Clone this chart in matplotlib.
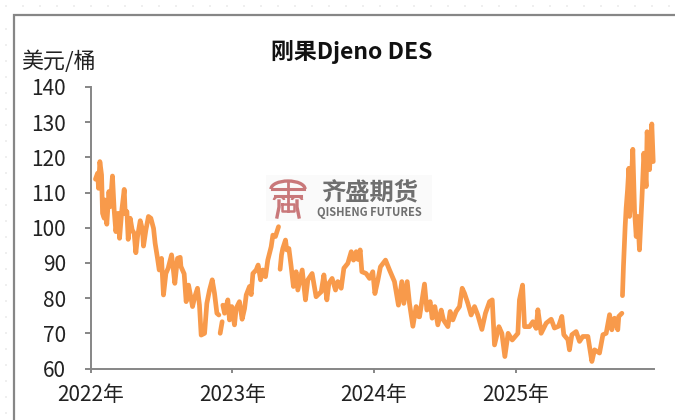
import numpy as np
import matplotlib
matplotlib.use('Agg')
import matplotlib.pyplot as plt
from matplotlib.patches import Rectangle, Arc

plt.rcParams['font.family'] = ['Noto Sans CJK SC', 'DejaVu Sans']

# anos desde 2022 / precio (nan = hueco en la serie)
t_2022 = [.035, .050, .057, .066, .078, .085, .097, .101, .115, .130, .139, .155, .167, .179, .195, .205,
          .221, .238, .245, .257, .266, .280, .294, .308, .320, .332, .351, .367, .374, .391, .409, .426,
          .445, .456, .473, .485, .501, .515, .532, .548, .572, .581, .595, .614, .633, .638, .661, .675,
          .692, .720, .736, .755, .769, .781, .805, .821, .840, .859, .875, .892, .906, .910, .915, .929,
          .931, .934, .946, .969, .981, .997]
p_2022 = [113.8, 115.5, 111.2, 118.8, 115, 104.1, 102.7, 107.9, 101, 110.3, 106, 114.7, 105, 98.9, 104.1, 97,
          105, 110.9, 104, 104.6, 96.7, 102.7, 99.4, 98.4, 92.9, 97.5, 102, 99.4, 94.8, 99.4, 103.2, 102.7,
          99.8, 95.6, 91.3, 88, 91.3, 80.9, 87, 88.5, 92.3, 89.4, 84.2, 91.3, 91.6, 89, 86.9, 79,
          83.7, 77.6, 80.4, 82.8, 78, 69.5, 70, 78.5, 82.3, 85.2, 81.4, 75.7, 75.2, np.nan, 70, 73.3,
          np.nan, 78, 75.7, 79.5, 73.8, 77.6]

t_2023 = [1.016, 1.028, 1.051, 1.070, 1.087, 1.099, 1.122, 1.134, 1.146, 1.169, 1.183, 1.200, 1.216, 1.235,
          1.251, 1.275, 1.287, 1.305, 1.327, 1.332, 1.338, 1.348, 1.357, 1.376, 1.385, 1.400, 1.416, 1.432,
          1.451, 1.463, 1.494, 1.517, 1.534, 1.564, 1.592, 1.604, 1.628, 1.647, 1.668, 1.682, 1.705, 1.729,
          1.745, 1.769, 1.788, 1.816, 1.840, 1.856, 1.875, 1.887, 1.903, 1.915, 1.945, 1.969, 1.992]
p_2023 = [72.4, 77.1, 79, 74, 77, 80.9, 83.3, 81, 87, 88, 89.4, 85.2, 88, 86.1,
          90.8, 94.6, 97.9, 97.5, 100.3, np.nan, 88.2, 92.3, 94.1, 96.5, 93.7, 94.1, 89, 83.3,
          87.5, 82.3, 88, 79.5, 85.2, 87, 80.4, 80.9, 81.8, 86.6, 79.5, 84.2, 85.6, 82.3,
          84.7, 82.8, 88.5, 89.9, 93.2, 90.8, 93.2, 91, 93.7, 87.5, 87, 85.6, 87.5]

t_2024 = [2.007, 2.028, 2.046, 2.082, 2.110, 2.145, 2.173, 2.197, 2.211, 2.235, 2.251, 2.275, 2.298, 2.317,
          2.322, 2.357, 2.374, 2.397, 2.411, 2.430, 2.451, 2.475, 2.491, 2.522, 2.538, 2.557, 2.580, 2.604,
          2.623, 2.639, 2.663, 2.686, 2.710, 2.733, 2.762, 2.787, 2.816, 2.835, 2.851, 2.882, 2.903, 2.924,
          2.947, 2.976]
p_2024 = [81.3, 85.1, 88.9, 90.8, 88, 84.7, 78, 84.7, 78.5, 84.7, 78.5, 72, 77.6, 74.7,
          74.7, 84, 76.6, 79, 74.3, 77.6, 72.4, 76.6, 73.8, 71.9, 76.2, 73.8, 76.2, 77.6,
          82.8, 81.4, 78.5, 75.2, 77.6, 75.2, 71.1, 75.7, 79, 79.5, 66.7, 71.9, 70, 63.4,
          70, 68.1]

t_2025 = [3.016, 3.027, 3.049, 3.063, 3.098, 3.122, 3.145, 3.157, 3.180, 3.216, 3.251, 3.274, 3.303, 3.326,
          3.340, 3.369, 3.380, 3.397, 3.427, 3.451, 3.474, 3.510, 3.538, 3.557, 3.592, 3.616, 3.639, 3.663,
          3.679, 3.698, 3.721, 3.728, 3.750, 3.752, 3.754, 3.761, 3.773, 3.780, 3.790, 3.799, 3.804, 3.815,
          3.827, 3.839, 3.851, 3.862, 3.874, 3.891, 3.905, 3.921, 3.928, 3.945, 3.961, 3.971]
p_2025 = [70, 79.5, 83.7, 71.9, 71.9, 73.3, 71.4, 76.7, 70, 72.9, 74, 71.5, 72, 74.8,
          69.6, 68.2, 65.3, 69.6, 70.5, 67.7, 69.1, 69.1, 62, 65.3, 64.4, 69.6, 70, 75.3,
          71, 74.3, 71, 74.8, 75.7, np.nan, 80.7, 89, 100.4, 105.6, 110.8, 116.9, 103.2, 111.7,
          122.3, 105, 97.5, 103.2, 93.7, 107.9, 121.2, 111.7, 127.3, 116.5, 129.5, 118.8]

years = [0, 1, 2, 3]
year_labels = ['2022年', '2023年', '2024年', '2025年']
y_ticks = [60, 70, 80, 90, 100, 110, 120, 130, 140]

W, H = 675, 420
GRIS = '#868686'
NARANJA = '#F89A4B'
TEXTO = '#222222'

fig = plt.figure(figsize=(W / 100, H / 100), dpi=100, facecolor='white')

# capa de fondo en pixeles: puntos del fondo y marco
bg = fig.add_axes([0, 0, 1, 1], zorder=0)
bg.set_xlim(0, W)
bg.set_ylim(H, 0)
bg.axis('off')
for x in range(5, W, 17):
    bg.add_patch(Rectangle((x, 5), 1.5, 1.5, color='#efefef', lw=0))
for y in range(28, H, 16):
    bg.add_patch(Rectangle((5, y), 1.5, 1.5, color='#efefef', lw=0))
bg.plot([13.5, 13.5, W], [H, 14.5, 14.5], color=GRIS, lw=1.6, solid_joinstyle='miter')

# marca de agua
bg.add_patch(Rectangle((266, 175), 166, 46, color='#fafafa', lw=0))
ROJO = '#c9787a'
bg.add_patch(Arc((288, 189), 34, 16, theta1=180, theta2=360, color=ROJO, lw=2.4))
bg.plot([272, 304], [189, 189], color=ROJO, lw=2.2)
bg.plot([275, 301], [196, 196], color=ROJO, lw=2.2)
bg.add_patch(Arc((279, 200), 10, 7, theta1=180, theta2=360, color=ROJO, lw=1.8))
bg.add_patch(Arc((297, 200), 10, 7, theta1=180, theta2=360, color=ROJO, lw=1.8))
bg.plot([277, 279, 279], [217, 207, 201], color=ROJO, lw=2.4)
bg.plot([299, 297, 297], [217, 207, 201], color=ROJO, lw=2.4)
bg.plot([288, 288], [181, 211], color=ROJO, lw=2)
bg.plot([282, 294, 294, 282, 282], [204, 204, 211, 211, 204], color=ROJO, lw=1.8)
bg.text(369.5, 192.5, '齐盛期货', fontsize=17.5, fontweight='bold', color='#6f6f6f', ha='center', va='center')
bg.text(369.5, 212.5, 'QISHENG FUTURES', fontsize=8, fontweight='bold', color='#6f6f6f', ha='center', va='center')

ax = fig.add_axes([90.5 / W, 1 - 368.5 / H, (653.5 - 90.5) / W, (368.5 - 87) / H], zorder=1)
ax.patch.set_alpha(0)

t = t_2022 + t_2023 + t_2024 + t_2025
p = p_2022 + p_2023 + p_2024 + p_2025
ax.plot(t, p, color=NARANJA, lw=3.4, solid_joinstyle='round', solid_capstyle='round', clip_on=False)

ax.set_xlim(0, 3.973)
ax.set_ylim(60, 140)
ax.set_yticks(y_ticks)
ax.set_xticks(years)
ax.set_xticklabels(year_labels)
ax.spines['top'].set_visible(False)
ax.spines['right'].set_visible(False)
ax.spines['left'].set_color(GRIS)
ax.spines['bottom'].set_color(GRIS)
ax.spines['left'].set_linewidth(1.4)
ax.spines['bottom'].set_linewidth(1.4)
ax.tick_params(axis='y', length=4.5, width=1.4, color=GRIS, labelcolor=TEXTO, labelsize=15, pad=13)
ax.tick_params(axis='x', length=3, width=1.4, color=GRIS, labelcolor=TEXTO, labelsize=15, pad=8)

bg.text(352, 52, '刚果Djeno DES', fontsize=16.5, fontweight='bold', color='#111111', ha='center', va='center')
bg.text(58.5, 62, '美元/桶', fontsize=15.8, color=TEXTO, ha='center', va='center')

plt.savefig('out.png', dpi=100)
plt.close()
